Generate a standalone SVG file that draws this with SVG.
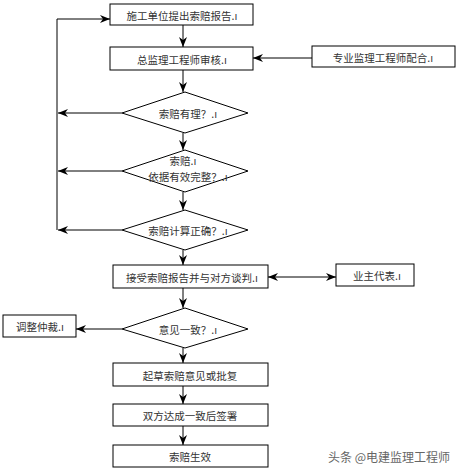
<svg xmlns="http://www.w3.org/2000/svg" width="458" height="471" viewBox="0 0 458 471">
<style>
.n rect,.n polygon{fill:#fff;stroke:#000;stroke-width:1}
text{font-family:"Noto Sans CJK SC","Liberation Sans",sans-serif;font-size:10.5px;fill:#333;text-anchor:middle;dominant-baseline:central}
.c line,.c polyline{stroke:#000;stroke-width:1;fill:none}
.wm{font-size:12px;fill:#666;text-anchor:start}
</style>
<defs>
<marker id="a" viewBox="0 0 10 8" refX="10" refY="4" markerWidth="10" markerHeight="8" markerUnits="userSpaceOnUse" orient="auto-start-reverse">
<path d="M0,0 L10,4 L0,8 L3,4 z" fill="#000"/>
</marker>
</defs>
<rect width="458" height="471" fill="#fff"/>
<g class="c">
<line x1="183" y1="25" x2="183" y2="47" marker-end="url(#a)"/>
<line x1="312" y1="58" x2="253" y2="58" marker-end="url(#a)"/>
<line x1="183" y1="70" x2="183" y2="92" marker-end="url(#a)"/>
<line x1="183" y1="133" x2="183" y2="150" marker-end="url(#a)"/>
<line x1="183" y1="192" x2="183" y2="210" marker-end="url(#a)"/>
<line x1="183" y1="250" x2="183" y2="265" marker-end="url(#a)"/>
<polyline points="57,230 57,19"/>
<line x1="57" y1="19" x2="110" y2="19" marker-end="url(#a)"/>
<line x1="122" y1="113" x2="58" y2="113" marker-end="url(#a)"/>
<line x1="122" y1="171" x2="58" y2="171" marker-end="url(#a)"/>
<line x1="122" y1="230" x2="58" y2="230" marker-end="url(#a)"/>
<line x1="268" y1="277" x2="336" y2="277" marker-start="url(#a)" marker-end="url(#a)"/>
<line x1="183" y1="288" x2="183" y2="308" marker-end="url(#a)"/>
<line x1="122" y1="329" x2="76" y2="329" marker-end="url(#a)"/>
<line x1="183" y1="348" x2="183" y2="363" marker-end="url(#a)"/>
<line x1="183" y1="386" x2="183" y2="404" marker-end="url(#a)"/>
<line x1="183" y1="426" x2="183" y2="445" marker-end="url(#a)"/>
</g>
<g id="n1" class="n"><rect x="110" y="4" width="143" height="21"/><text x="182" y="15">施工单位提出索赔报告.ı</text></g>
<g id="n2" class="n"><rect x="110" y="47" width="143" height="23"/><text x="182" y="59">总监理工程师审核.ı</text></g>
<g id="n3" class="n"><rect x="312" y="46" width="143" height="21"/><text x="383" y="57">专业监理工程师配合.ı</text></g>
<g id="d1" class="n"><polygon points="185,92 248,113 185,133 122,113"/><text x="188" y="113">索赔有理？.ı</text></g>
<g id="d2" class="n"><polygon points="185,150 248,171 185,192 122,171"/><text x="183" y="160">索赔.ı</text><text x="188" y="176">依据有效完整？.ı</text></g>
<g id="d3" class="n"><polygon points="185,210 248,230 185,250 122,230"/><text x="188" y="230">索赔计算正确？.ı</text></g>
<g id="n4" class="n"><rect x="113" y="265" width="155" height="23"/><text x="192" y="277">接受索赔报告并与对方谈判.ı</text></g>
<g id="n5" class="n"><rect x="336" y="264" width="78" height="22"/><text x="377" y="275">业主代表.ı</text></g>
<g id="d4" class="n"><polygon points="185,308 248,329 185,348 122,329"/><text x="188" y="329">意见一致？.ı</text></g>
<g id="n6" class="n"><rect x="3" y="315" width="73" height="22"/><text x="40" y="326">调整仲裁.ı</text></g>
<g id="n7" class="n"><rect x="113" y="363" width="155" height="23"/><text x="190" y="375">起草索赔意见或批复</text></g>
<g id="n8" class="n"><rect x="113" y="404" width="155" height="22"/><text x="190" y="415">双方达成一致后签署</text></g>
<g id="n9" class="n"><rect x="113" y="445" width="155" height="22"/><text x="190" y="456">索赔生效</text></g>
<text class="wm" x="328" y="456">头条 @电建监理工程师</text>
</svg>
